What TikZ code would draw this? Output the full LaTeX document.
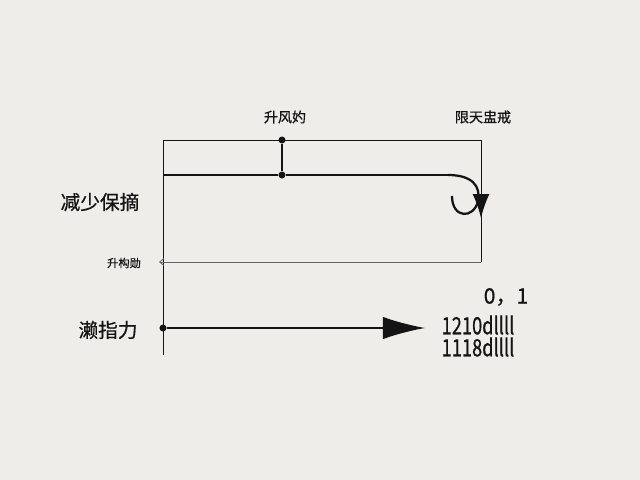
\documentclass[tikz,border=0pt]{standalone}
\usepackage{fontspec}
\setmainfont{Noto Sans CJK SC}[FakeBold=0.7]
\usetikzlibrary{arrows.meta}
\definecolor{papier}{RGB}{238,237,233}
\definecolor{encre}{RGB}{20,20,20}
\definecolor{gris}{RGB}{100,100,100}

\begin{document}
\begin{tikzpicture}[x=0.025cm,y=-0.025cm,
  lbl/.style={inner sep=0pt,text=encre},
  pt/.style={circle,fill=encre,inner sep=0pt,minimum size=5pt}]
\fill [papier] (0,0) rectangle (640,480);
\useasboundingbox (0,0) rectangle (640,480);
% coins du cadre
\coordinate (hg) at (163,140);
\coordinate (hd) at (481,140);
\coordinate (bd) at (481,262);
\coordinate (bg) at (163,262);
\coordinate (pied) at (163,355);
\coordinate (m) at (163,175);
\coordinate (crochet) at (448,175);
\node [pt] (a) at (282,140) {};
\node [pt] (b) at (282,175) {};
\node [pt] (c) at (163,328) {};
\coordinate (fin) at (425,328);
% cadre
\draw [encre, semithick] (pied)--(hg)--(hd)--(bd);
\draw [gris, semithick] (bd)--(bg);
\draw [gris, semithick,-{Straight Barb[length=3pt,width=5pt]}] (bg)--++(-4,0);
\draw [encre, thick] (a)--(b);
\draw [encre, thick] (m)--(b)--(crochet);
\draw [encre, line width=1.6pt] (crochet) .. controls (472,175) and (481,186) .. (478,201)
      .. controls (474,219) and (452,219) .. (452,196);
\draw [encre, thick,-{Latex[length=17pt,width=12pt]}] (481,199)--(481,218);
\draw [encre, very thick,-{Latex[length=30pt,width=16pt]}] (c)--(fin);
% textes
\node [lbl,font=\fontsize{10}{12}\selectfont] (t1) at (285,117) {升风妁};
\node [lbl,font=\fontsize{10}{12}\selectfont] (t2) at (483,117) {限天盅戒};
\node [lbl,font=\fontsize{14}{16}\selectfont] (t3) at (100,202) {减少保摘};
\node [lbl,font=\fontsize{8}{10}\selectfont] (t4) at (124,263) {升构勋};
\node [lbl,font=\fontsize{14}{16}\selectfont] (t5) at (108,330) {濑指力};
\node [lbl,font=\fontsize{15}{17}\selectfont] (t6) at (506,297) {0，1};
\node [lbl,font=\fontsize{13}{15}\selectfont] (t7) at (478,325) {\scalebox{1}[1.3]{1210dllll}};
\node [lbl,font=\fontsize{13}{15}\selectfont] (t8) at (478,347) {\scalebox{1}[1.3]{1118dllll}};
\end{tikzpicture}
\end{document}
